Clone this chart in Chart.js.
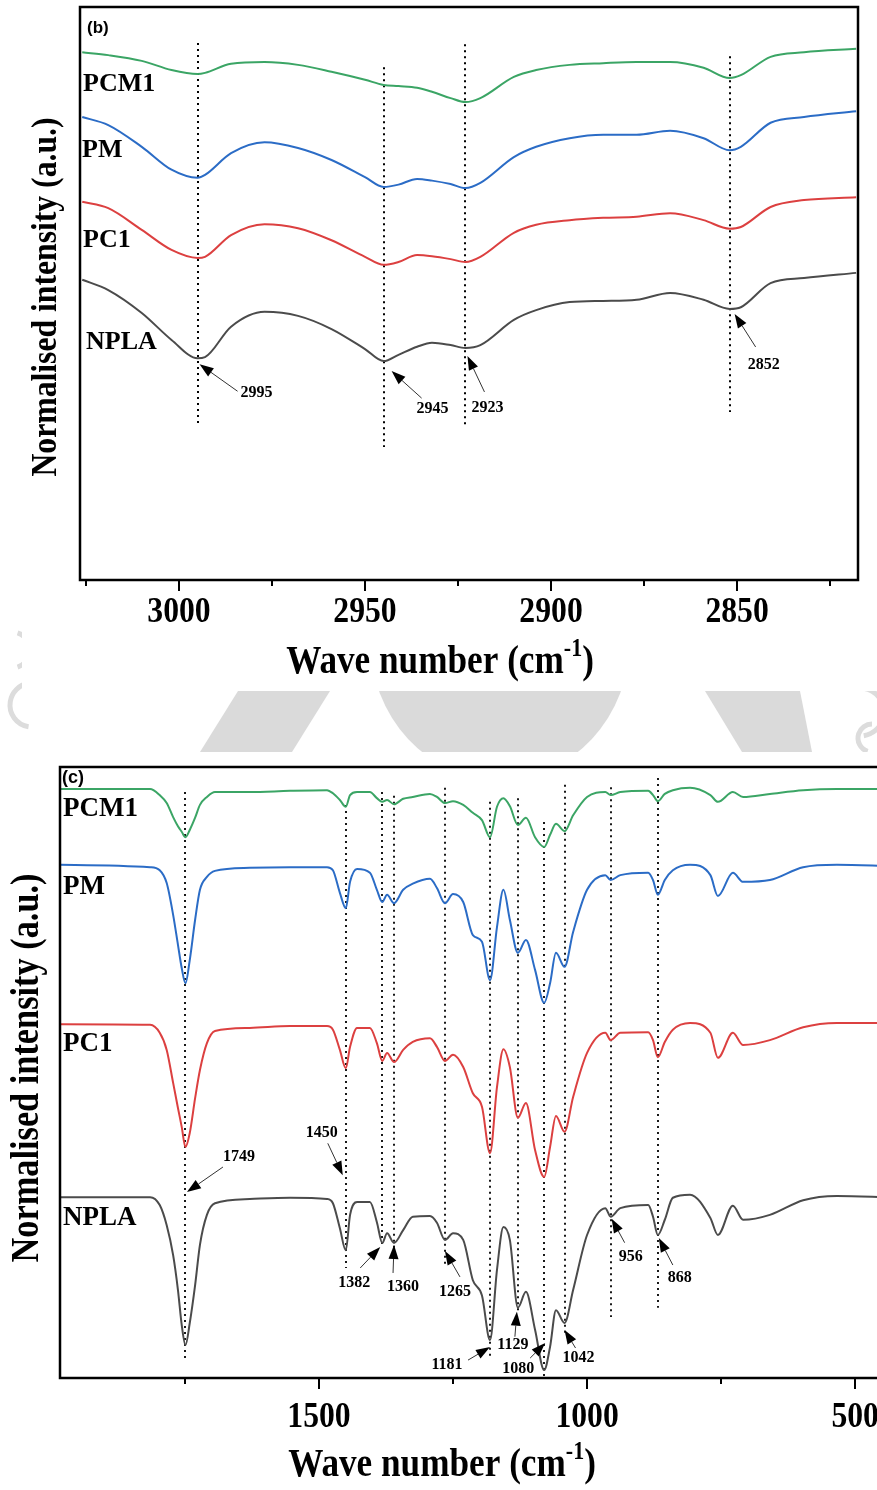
<!DOCTYPE html>
<html>
<head>
<meta charset="utf-8">
<script src="https://cdn.jsdelivr.net/npm/chart.js@4.4.1/dist/chart.umd.min.js"></script>
<style>
  html, body { margin: 0; padding: 0; width: 877px; height: 1490px; overflow: hidden; background: #fff; }
  canvas { position: absolute; left: 0; }
  #bg { top: 0; }
  #top { top: 0; }
  #bottom { top: 752px; }
</style>
</head>
<body>
<canvas id="bg" width="877" height="1490"></canvas>
<canvas id="top" width="877" height="691"></canvas>
<canvas id="bottom" width="900" height="738"></canvas>
<script>
// ---------- (b) C–H stretching region ----------
const topWavenumber = [3026, 3019, 3010, 3002, 2995, 2993, 2986, 2977, 2968, 2959,
                       2950, 2945, 2941, 2936, 2932, 2927, 2923, 2919, 2910, 2904,
                       2895, 2886, 2877, 2868, 2859, 2852, 2849, 2841, 2832, 2818];
const topPCM1 = [92.1, 91.6, 90.6, 89.0, 88.3, 88.5, 90.1, 90.4, 89.9, 88.7,
                 87.3, 86.4, 86.2, 85.9, 85.2, 84.1, 83.4, 84.1, 87.8, 89.0,
                 89.9, 90.2, 90.4, 90.4, 89.4, 87.6, 88.1, 91.3, 92.1, 92.7];
const topPM   = [80.8, 79.4, 75.6, 71.6, 70.2, 70.7, 74.5, 76.4, 75.4, 73.3,
                 70.3, 68.6, 69.0, 70.0, 69.7, 69.1, 68.4, 69.3, 73.8, 75.6,
                 77.1, 77.7, 77.7, 78.4, 77.1, 75.0, 75.6, 79.8, 80.8, 81.8];
const topPC1  = [66.0, 64.9, 61.1, 57.6, 56.2, 56.4, 60.2, 62.1, 61.4, 59.3,
                 56.4, 55.0, 55.5, 56.7, 56.5, 56.0, 55.5, 56.4, 60.6, 62.0,
                 62.8, 63.2, 63.4, 64.0, 62.8, 61.3, 61.6, 65.1, 66.3, 66.8];
const topNPLA = [52.4, 50.6, 46.6, 41.9, 38.7, 38.9, 44.2, 46.8, 46.1, 43.8,
                 40.3, 38.2, 39.3, 40.7, 41.4, 41.0, 40.5, 41.0, 45.4, 47.1,
                 48.5, 48.7, 48.9, 50.1, 48.9, 47.3, 47.6, 51.8, 52.7, 53.6];
const topTickMajor = [3000, 2950, 2900, 2850];
const topTickMinor = [3025, 2975, 2925, 2875, 2825];
const topPeaks = [2995, 2945, 2923, 2852];

// ---------- (c) fingerprint region ----------
const bottomWavenumber = [1983, 1815, 1797, 1784, 1772, 1763, 1756, 1749, 1741, 1731,
                          1722, 1709, 1694, 1629, 1554, 1485, 1474, 1461, 1450, 1442,
                          1429, 1405, 1392, 1382, 1373, 1360, 1343, 1325, 1293, 1280,
                          1265, 1250, 1231, 1213, 1196, 1181, 1168, 1156, 1144, 1129,
                          1114, 1097, 1080, 1069, 1058, 1042, 1026, 1000, 966, 956,
                          938, 886, 877, 868, 855, 840, 808, 770, 756, 728,
                          709, 659, 597, 534, 435];
const bottomPCM1 = [96.4, 96.4, 95.4, 94.1, 91.8, 90.3, 89.4, 88.5, 89.7, 91.7,
                    93.8, 95.1, 95.9, 95.9, 96.1, 96.2, 95.7, 94.6, 93.5, 95.4,
                    95.9, 95.9, 94.9, 94.3, 94.6, 93.9, 94.8, 95.1, 95.6, 95.1,
                    94.1, 94.4, 93.8, 92.5, 91.3, 88.5, 93.5, 94.9, 93.6, 90.5,
                    91.7, 88.5, 86.9, 88.9, 90.7, 89.5, 92.1, 95.1, 95.9, 95.4,
                    95.9, 96.1, 95.4, 94.4, 95.6, 96.2, 96.6, 95.4, 94.3, 95.9,
                    95.1, 95.6, 96.2, 96.4, 96.4];
const bottomPM = [84.0, 83.6, 83.1, 81.0, 75.8, 70.9, 67.1, 64.6, 68.4, 75.0,
                  79.9, 82.0, 83.0, 83.5, 83.6, 83.6, 83.1, 79.4, 76.9, 81.2,
                  83.3, 82.7, 79.9, 77.9, 79.1, 77.7, 79.9, 80.9, 81.7, 80.2,
                  77.7, 79.2, 77.9, 72.5, 71.4, 65.1, 73.8, 79.9, 75.0, 69.6,
                  71.7, 66.8, 61.4, 64.6, 69.6, 67.3, 73.0, 79.9, 82.3, 81.5,
                  82.3, 82.7, 81.5, 79.1, 81.5, 83.1, 84.0, 82.3, 78.9, 82.7,
                  81.2, 81.5, 83.6, 84.0, 83.8];
const bottomPC1 = [57.9, 57.8, 56.5, 53.7, 48.3, 44.2, 41.1, 37.8, 40.1, 45.8,
                   50.4, 54.8, 56.8, 57.3, 57.6, 57.6, 57.0, 53.7, 50.7, 54.2,
                   57.3, 57.3, 54.8, 51.9, 53.2, 51.7, 53.7, 55.0, 55.6, 54.2,
                   51.9, 52.9, 50.9, 46.6, 44.4, 36.8, 47.6, 53.8, 50.9, 42.6,
                   45.0, 37.3, 32.9, 37.8, 42.9, 40.3, 46.0, 53.2, 56.5, 55.3,
                   56.5, 56.6, 55.3, 52.5, 55.0, 57.0, 58.1, 56.5, 52.4, 56.5,
                   54.5, 55.3, 57.4, 58.1, 58.1];
const bottomNPLA = [29.6, 29.6, 28.3, 25.0, 20.1, 14.4, 8.7, 5.4, 9.0, 15.2,
                    21.8, 26.7, 28.6, 29.3, 29.5, 29.3, 28.6, 24.5, 20.9, 26.7,
                    28.8, 28.8, 25.5, 22.1, 23.7, 22.1, 24.2, 26.4, 26.5, 25.4,
                    22.6, 23.7, 22.6, 16.0, 13.5, 6.2, 17.7, 24.7, 22.6, 11.5,
                    14.1, 7.9, 1.3, 5.1, 11.1, 9.0, 14.4, 23.4, 27.8, 26.4,
                    27.8, 28.3, 26.4, 23.4, 25.9, 29.5, 30.0, 26.2, 23.4, 28.2,
                    25.9, 26.7, 29.1, 29.8, 29.6];
const bottomTickMajor = [1500, 1000, 500];
const bottomTickMinor = [1750, 1250, 750];
const bottomPeaks = [1749, 1450, 1382, 1360, 1265, 1181, 1129, 1080, 1042, 956, 868];

const seriesNames = ['PCM1', 'PM', 'PC1', 'NPLA'];
const seriesColors = ['#3ba565', '#2b6cc6', '#dc4040', '#4b4b4b'];

// ---------- layout (pixels / axis units for decorations) ----------
const SERIF = '"Liberation Serif", "Times New Roman", serif';
const SANS = '"Liberation Sans", Arial, sans-serif';

const topLayout = {
  padding: { left: 80, top: 7, right: 19, bottom: 0 }, axisHeight: 111,
  xMin: 2817.5, xMax: 3026.6, whiteLeft: 22,
  tickLabelY: 613, titleX: 440, titleY: 660, titleSize: 40,
  yTitleX: 47, yTitleY: 297, yTitleSize: 36,
  nameSize: 26, names: [[83, 84], [82, 150], [83, 240], [86, 342]],
  letter: '(b)', letterPos: [87, 28], letterSize: 17,
  guideSpan: [[93.7, 27.4], [89.5, 23.2], [93.5, 27.2], [91.4, 29.3]],
  guideWidth: 2,
  place: [
    { tip: [2, 6],  tail: [38, 27], label: [57, 29] },
    { tip: [8, 10], tail: [30, 27], label: [41, 38] },
    { tip: [2, 8],  tail: [17, 36], label: [20, 52] },
    { tip: [5, 5],  tail: [21, 33], label: [29, 51] }
  ]
};
const bottomLayout = {
  padding: { left: 60, top: 15, right: 10, bottom: 0 }, axisHeight: 112,
  xMin: 435, xMax: 1983, whiteLeft: 0,
  tickLabelY: 666, titleX: 442, titleY: 711, titleSize: 40,
  yTitleX: 28, yTitleY: 316, yTitleSize: 39,
  nameSize: 27, names: [[63, 57], [63, 135], [63, 292], [63, 466]],
  letter: '(c)', letterPos: [62, 26], letterSize: 18,
  guideSpan: [[95.9, 2.9], [93.8, 18.0], [95.9, 21.8], [95.3, 21.3], [96.6, 18.2], [94.3, 3.4],
              [94.9, 11.1], [91.0, 0], [97.1, 7.4], [96.7, 10.0], [98.2, 11.5]],
  guideWidth: 1.8,
  place: [
    { tip: [1.5, -153], tail: [36, -25], label: [52, -35] },
    { tip: [-3, -75],   tail: [-15, -32], label: [-21, -42] },
    { tip: [-2, 4],     tail: [-20, 21], label: [-26, 36] },
    { tip: [0, 2],      tail: [-1, 28],  label: [9, 42] },
    { tip: [0, 11],     tail: [15, 26],  label: [10, 41] },
    { tip: [0, 7],      tail: [-22, 13], label: [-43, 18] },
    { tip: [-1, 4],     tail: [-2, 25],  label: [-4, 33] },
    { tip: [1, -27],    tail: [-15, 15], label: [-27, 26] },
    { tip: [0, 7],      tail: [11, 18],  label: [14, 28] },
    { tip: [1, 2],      tail: [13, 24],  label: [19, 38] },
    { tip: [1, 3],      tail: [14, 27],  label: [21, 40] }
  ]
};
const CONDENSE = 0.88;

function drawText(c, s, x, y, font, sx, align) {
  c.save();
  c.font = font; c.fillStyle = '#000';
  c.textAlign = align || 'center'; c.textBaseline = 'middle';
  c.translate(x, y); c.scale(sx || 1, 1);
  c.fillText(s, 0, 0);
  c.restore();
}

function drawAxisTitle(c, cx, cy, size) {
  const main = 'bold ' + size + 'px ' + SERIF;
  const sup = 'bold ' + Math.round(size * 0.62) + 'px ' + SERIF;
  c.save();
  c.font = main;
  const w1 = c.measureText('Wave number (cm').width;
  const w3 = c.measureText(')').width;
  c.font = sup;
  const w2 = c.measureText('-1').width;
  c.translate(cx, cy); c.scale(CONDENSE, 1);
  c.fillStyle = '#000'; c.textAlign = 'left'; c.textBaseline = 'alphabetic';
  let x = -(w1 + w2 + w3) / 2;
  const base = size * 0.33;
  c.font = main; c.fillText('Wave number (cm', x, base); x += w1;
  c.font = sup; c.fillText('-1', x, base - size * 0.42); x += w2;
  c.font = main; c.fillText(')', x, base);
  c.restore();
}

function drawArrow(c, tx, ty, hx, hy) {
  const ang = Math.atan2(hy - ty, hx - tx);
  const L = 14, W = 5;
  const bx = hx - L * Math.cos(ang), by = hy - L * Math.sin(ang);
  c.save();
  c.strokeStyle = '#333'; c.lineWidth = 1;
  c.beginPath(); c.moveTo(tx, ty); c.lineTo(bx, by); c.stroke();
  c.fillStyle = '#000';
  c.beginPath();
  c.moveTo(hx, hy);
  c.lineTo(bx + W * Math.sin(ang), by - W * Math.cos(ang));
  c.lineTo(bx - W * Math.sin(ang), by + W * Math.cos(ang));
  c.closePath(); c.fill();
  c.restore();
}

function panelDeco(L, wn, npla, peaks, major, minor) {
  return {
    id: 'panelDeco',
    beforeDraw(chart) {
      const c = chart.ctx;
      c.save(); c.fillStyle = '#fff';
      c.fillRect(L.whiteLeft, 0, chart.width, chart.height);
      c.restore();
    },
    beforeDatasetsDraw(chart) {
      const c = chart.ctx, xs = chart.scales.x, ys = chart.scales.y;
      c.save();
      c.strokeStyle = '#000'; c.lineWidth = L.guideWidth; c.setLineDash([2, 4]);
      peaks.forEach((p, i) => {
        const x = Math.round(xs.getPixelForValue(p));
        c.beginPath();
        c.moveTo(x, ys.getPixelForValue(L.guideSpan[i][0]));
        c.lineTo(x, ys.getPixelForValue(L.guideSpan[i][1]));
        c.stroke();
      });
      c.restore();
    },
    afterDraw(chart) {
      const c = chart.ctx, a = chart.chartArea, xs = chart.scales.x, ys = chart.scales.y;
      // frame
      c.save();
      c.strokeStyle = '#000'; c.lineWidth = 2.5;
      c.strokeRect(a.left, a.top, a.right - a.left, a.bottom - a.top);
      // ticks
      c.lineWidth = 2;
      major.forEach(v => {
        const x = Math.round(xs.getPixelForValue(v));
        c.beginPath(); c.moveTo(x, a.bottom); c.lineTo(x, a.bottom + 11); c.stroke();
      });
      minor.forEach(v => {
        const x = Math.round(xs.getPixelForValue(v));
        c.beginPath(); c.moveTo(x, a.bottom); c.lineTo(x, a.bottom + 6); c.stroke();
      });
      c.restore();
      major.forEach(v => {
        drawText(c, String(v), xs.getPixelForValue(v), L.tickLabelY, 'bold 36px ' + SERIF, CONDENSE);
      });
      drawAxisTitle(c, L.titleX, L.titleY, L.titleSize);
      // y title
      c.save();
      c.translate(L.yTitleX, L.yTitleY); c.rotate(-Math.PI / 2);
      drawText(c, 'Normalised intensity (a.u.)', 0, 0, 'bold ' + L.yTitleSize + 'px ' + SERIF, CONDENSE);
      c.restore();
      // series names
      seriesNames.forEach((n, k) => {
        drawText(c, n, L.names[k][0], L.names[k][1], 'bold ' + L.nameSize + 'px ' + SERIF, 1, 'left');
      });
      drawText(c, L.letter, L.letterPos[0], L.letterPos[1], 'bold ' + L.letterSize + 'px ' + SANS, 1, 'left');
      // peak annotations on the NPLA trace
      peaks.forEach((p, i) => {
        const idx = wn.indexOf(p);
        const px = xs.getPixelForValue(p), py = ys.getPixelForValue(npla[idx]);
        const pl = L.place[i];
        const hx = px + pl.tip[0], hy = py + pl.tip[1];
        drawArrow(c, hx + pl.tail[0], hy + pl.tail[1], hx, hy);
        drawText(c, String(p), hx + pl.label[0], hy + pl.label[1], 'bold 16px ' + SERIF, 1);
      });
    }
  };
}

function makeChart(id, L, wn, series, peaks, major, minor) {
  const datasets = seriesNames.map((n, k) => ({
    label: n,
    data: wn.map((w, i) => ({ x: w, y: series[k][i] })),
    borderColor: seriesColors[k],
    borderWidth: 2,
    pointRadius: 0,
    fill: false,
    cubicInterpolationMode: 'monotone'
  }));
  return new Chart(document.getElementById(id), {
    type: 'line',
    data: { datasets },
    options: {
      responsive: false, animation: false, devicePixelRatio: 1, events: [],
      layout: { padding: L.padding, autoPadding: false },
      plugins: { legend: { display: false }, tooltip: { enabled: false } },
      scales: {
        x: {
          type: 'linear', reverse: true, min: L.xMin, max: L.xMax,
          grid: { display: false, drawTicks: false }, border: { display: false },
          ticks: { display: false },
          afterFit: s => { s.height = L.axisHeight; }
        },
        y: { display: false, min: 0, max: 100 }
      }
    },
    plugins: [panelDeco(L, wn, series[3], peaks, major, minor)]
  });
}

// faint page background shapes between the two panels
(function () {
  const c = document.getElementById('bg').getContext('2d');
  c.fillStyle = '#fff'; c.fillRect(0, 0, 877, 1490);
  c.fillStyle = '#dadada'; c.strokeStyle = '#dcdcdc';
  c.beginPath(); c.moveTo(238, 691); c.lineTo(330, 691); c.lineTo(292, 752); c.lineTo(200, 752); c.closePath(); c.fill();
  c.beginPath(); c.ellipse(500, 640, 130, 140, 0, 0, Math.PI * 2); c.fill();
  c.beginPath(); c.moveTo(705, 691); c.lineTo(800, 691); c.lineTo(812, 752); c.lineTo(742, 752); c.closePath(); c.fill();
  c.lineWidth = 5;
  c.beginPath(); c.arc(32, 705, 22, Math.PI * 0.55, Math.PI * 1.45); c.stroke();
  c.beginPath(); c.arc(12, 650, 18, Math.PI * 1.6, Math.PI * 0.4); c.stroke();
  c.beginPath(); c.arc(860, 712, 24, -Math.PI * 0.45, Math.PI * 0.45); c.stroke();
  c.beginPath(); c.arc(872, 738, 14, Math.PI * 0.6, Math.PI * 1.5); c.stroke();
})();

makeChart('top', topLayout, topWavenumber, [topPCM1, topPM, topPC1, topNPLA],
          topPeaks, topTickMajor, topTickMinor);
makeChart('bottom', bottomLayout, bottomWavenumber, [bottomPCM1, bottomPM, bottomPC1, bottomNPLA],
          bottomPeaks, bottomTickMajor, bottomTickMinor);
</script>
</body>
</html>
